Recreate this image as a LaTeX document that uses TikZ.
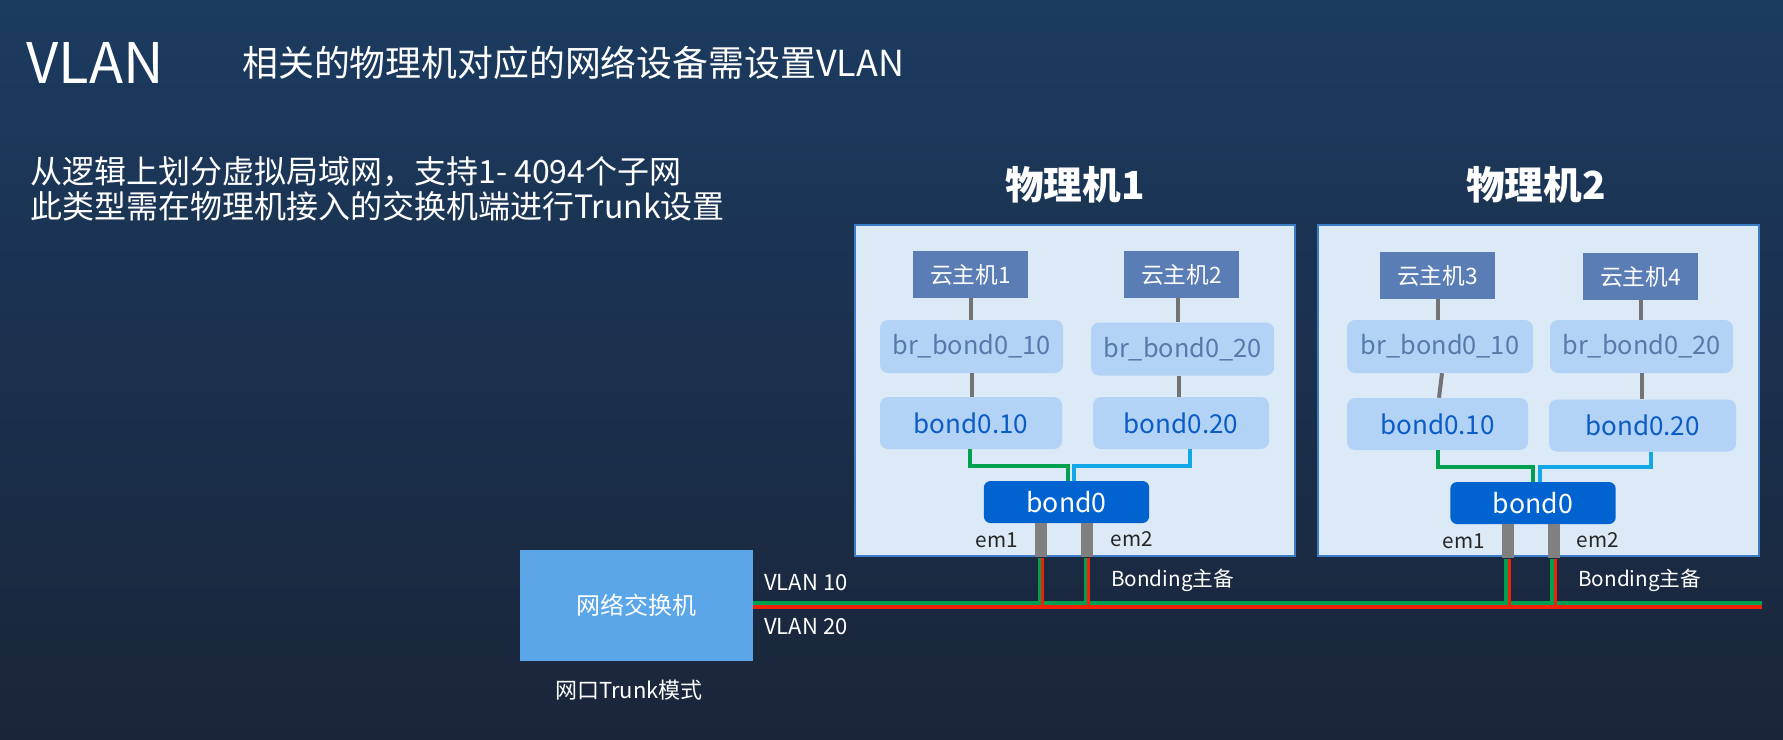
\documentclass[tikz,border=0pt]{standalone}
\usepackage{fontspec}
\setmainfont{Noto Sans CJK SC}
\usetikzlibrary{calc}
\definecolor{bgtop}{HTML}{1B3B60}
\definecolor{bgbot}{HTML}{1A2539}
\definecolor{hostfill}{HTML}{DCEAF7}
\definecolor{hostborder}{HTML}{3C7CC4}
\definecolor{vmfill}{HTML}{5A7DB5}
\definecolor{brfill}{HTML}{B2D2F6}
\definecolor{brtext}{HTML}{5979AA}
\definecolor{subtext}{HTML}{0B5CC6}
\definecolor{bondfill}{HTML}{0063CF}
\definecolor{swfill}{HTML}{5AA6E8}
\definecolor{portgray}{HTML}{808080}
\definecolor{vgreen}{HTML}{00A050}
\definecolor{vcyan}{HTML}{12A8E8}
\definecolor{vred}{HTML}{F0220A}
\begin{document}
\begin{tikzpicture}[x=0.75pt,y=-0.75pt,
  host/.style={draw=hostborder,line width=1.5pt,fill=hostfill,inner sep=0},
  vm/.style={fill=vmfill,text=white,inner sep=0,minimum width=86.25pt,minimum height=35.25pt,font=\fontsize{17}{20}\selectfont},
  brbox/.style={fill=brfill,rounded corners=6pt,text=brtext,inner sep=0,minimum height=39.75pt,font=\fontsize{19}{22}\selectfont},
  subbox/.style={fill=brfill,rounded corners=6pt,text=subtext,inner sep=0,minimum height=39pt,font=\fontsize{19.5}{22}\selectfont},
  bondbox/.style={fill=bondfill,rounded corners=5pt,text=white,inner sep=0,minimum width=124pt,minimum height=31.5pt,font=\fontsize{20}{24}\selectfont},
  port/.style={fill=portgray,inner sep=0,minimum width=9pt,minimum height=25.5pt},
  link/.style={draw=portgray!90!black,line width=3pt},
  gwire/.style={draw=vgreen,line width=3pt},
  cwire/.style={draw=vcyan,line width=3pt},
  rwire/.style={draw=vred,line width=2.5pt},
  gvert/.style={draw=vgreen,line width=2.4pt},
  lbl/.style={text=white,inner sep=0},
  emlbl/.style={text=black!85,inner sep=0,font=\fontsize{15.5}{18}\selectfont},
]
\useasboundingbox (0,0) rectangle (1783,739);
\shade[top color=bgtop,bottom color=bgbot] (0,0) rectangle (1783,739);

% titles
\node[lbl,anchor=base west,font=\fontsize{42}{48}\selectfont] (title) at (26,83) {VLAN};
\node[lbl,anchor=base west,font=\fontsize{26.9}{30}\selectfont] (subtitle) at (242,76) {相关的物理机对应的网络设备需设置VLAN};
\node[lbl,anchor=base west,font=\fontsize{24}{28}\selectfont] (line1) at (30,183) {从逻辑上划分虚拟局域网，支持1- 4094个子网};
\node[lbl,anchor=base west,font=\fontsize{24}{28}\selectfont] (line2) at (30,218) {此类型需在物理机接入的交换机端进行Trunk设置};

% host labels
\node[lbl,font=\fontsize{29}{34}\bfseries\selectfont] (h1lbl) at (1075,185) {物理机1};
\node[lbl,font=\fontsize{29}{34}\bfseries\selectfont] (h2lbl) at (1536,185) {物理机2};

% host boxes
\node[host,minimum width=330pt,minimum height=248.25pt] (host1) at (1075,390) {};
\node[host,minimum width=330.75pt,minimum height=248.25pt] (host2) at (1538.5,390) {};

% ---- host 1 ----
\node[vm] (vm1) at (970.5,274.5) {云主机1};
\node[vm] (vm2) at (1181.5,274.5) {云主机2};
\node[brbox,minimum width=137.25pt] (bra) at (971.5,346.5) {br\_bond0\_10};
\node[brbox,minimum width=137.25pt] (brb) at (1182.5,349) {br\_bond0\_20};
\node[subbox,minimum width=136.5pt] (sa) at (971,423) {bond0.10};
\node[subbox,minimum width=132pt] (sb) at (1181,423) {bond0.20};
\node[bondbox] (bond1) at (1066.5,502) {bond0};
\node[port,anchor=north] (p1a) at (1041,523) {};
\node[port,anchor=north] (p1b) at (1087,523) {};

\draw[link] (vm1.south) -- (vm1.south |- bra.north);
\draw[link] (bra.south) -- (bra.south |- sa.north);
\draw[link] ([xshift=-3pt]vm2.south) -- ([xshift=-3pt]vm2.south |- brb.north);
\draw[link] ([xshift=-3pt]brb.south) -- ([xshift=-3pt]brb.south |- sb.north);
\coordinate (g1) at (1068,481);
\coordinate (c1) at (1074,481);
\draw[gwire] ([xshift=-0.75pt]sa.south) |- ($(g1)+(0,-15)$) -- (g1);
\draw[cwire] ([xshift=6.75pt]sb.south) |- ($(c1)+(0,-15)$) -- (c1);

% ---- host 2 ----
\node[vm] (vm3) at (1437.5,275.5) {云主机3};
\node[vm] (vm4) at (1640.5,276.5) {云主机4};
\node[brbox,minimum width=139.5pt] (brc) at (1440,346.5) {br\_bond0\_10};
\node[brbox,minimum width=137.25pt] (brd) at (1641.5,346.5) {br\_bond0\_20};
\node[subbox,minimum width=135.75pt] (sc) at (1437.5,424) {bond0.10};
\node[subbox,minimum width=140.25pt] (sd) at (1642.5,425.5) {bond0.20};
\node[bondbox] (bond2) at (1533,503) {bond0};
\node[port,anchor=north] (p2a) at (1507.5,524) {};
\node[port,anchor=north] (p2b) at (1553.5,524) {};

\draw[link] (vm3.south) -- (vm3.south |- brc.north);
\draw[link] ([xshift=1.5pt]brc.south) -- ([xshift=-0.75pt]brc.south |- sc.north);
\draw[link] (vm4.south) -- (vm4.south |- brd.north);
\draw[link] (brd.south) -- (brd.south |- sd.north);
\coordinate (g2) at (1533,482);
\coordinate (c2) at (1540,482);
\draw[gwire] (sc.south) |- ($(g2)+(0,-15)$) -- (g2);
\draw[cwire] ([xshift=6.4pt]sd.south) |- ($(c2)+(0,-15)$) -- (c2);

% em labels
\node[emlbl] (em1a) at (997,540) {em1};
\node[emlbl] (em2a) at (1132,539) {em2};
\node[emlbl] (em1b) at (1464,541) {em1};
\node[emlbl] (em2b) at (1598,540) {em2};

% switch
\node[fill=swfill,text=white,inner sep=0,minimum width=174.75pt,minimum height=83.25pt,font=\fontsize{18}{22}\selectfont] (sw) at (636.5,605.5) {网络交换机};
\node[lbl,font=\fontsize{16.5}{20}\selectfont] (swlbl) at (629,690) {网口Trunk模式};
\node[lbl,anchor=west,font=\fontsize{16.5}{20}\selectfont] (v10) at (764,583) {VLAN 10};
\node[lbl,anchor=west,font=\fontsize{16.5}{20}\selectfont] (v20) at (764,627) {VLAN 20};
\node[lbl,anchor=west,font=\fontsize{15.5}{18}\selectfont] (bm1) at (1111,580) {Bonding主备};
\node[lbl,anchor=west,font=\fontsize{15.5}{18}\selectfont] (bm2) at (1578,580) {Bonding主备};

% trunk lines
\coordinate (gend) at (1762,603);
\coordinate (rend) at (1762,607);
\draw[gwire] (sw.east |- gend) -- (gend);
\draw[rwire] (sw.east |- rend) -- (rend);
\foreach \p in {p1a,p1b,p2a,p2b}{
  \draw[gvert] ([xshift=-1.2pt]\p.south) -- ([xshift=-1.2pt]\p.south |- gend);
  \draw[rwire] ([xshift=1.3pt]\p.south) -- ([xshift=1.3pt]\p.south |- rend);
}
\end{tikzpicture}
\end{document}
